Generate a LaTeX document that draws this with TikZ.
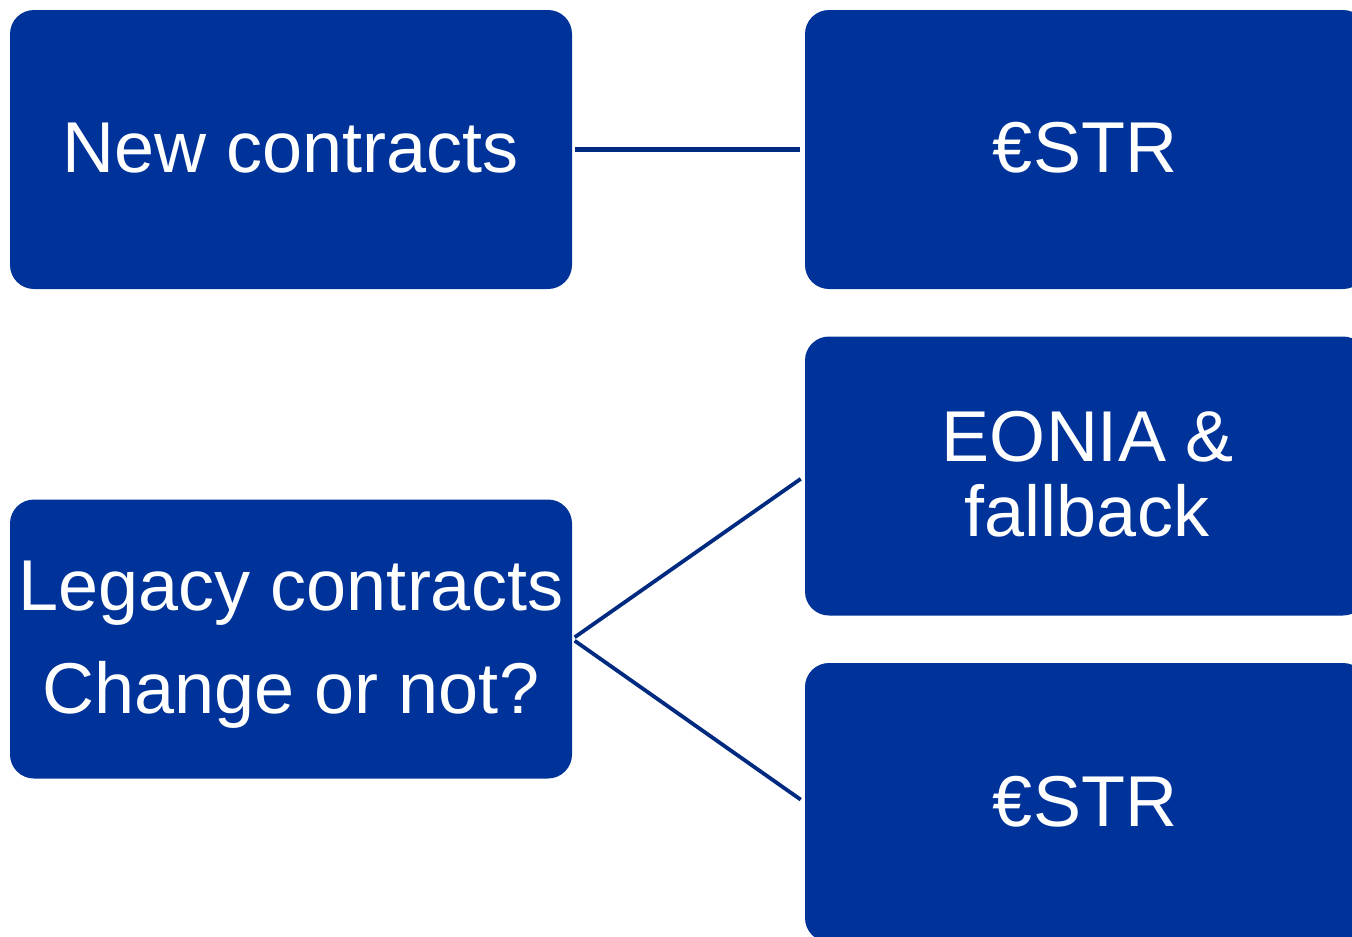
\documentclass[tikz,border=0pt]{standalone}
\usepackage{fontspec}
\setmainfont{Liberation Sans}
\definecolor{boxblue}{HTML}{003399}
\definecolor{linkblue}{HTML}{002A80}
\begin{document}
\begin{tikzpicture}[x=1pt,y=-1pt,
  box/.style={draw=none,fill=boxblue,rounded corners=24pt,minimum width=562pt,minimum height=279pt,inner sep=0pt,anchor=center},
  txt/.style={text=white,font=\fontsize{72}{86}\selectfont,inner sep=0pt,anchor=base},
  link/.style={draw=linkblue,line width=#1},
  link/.default=3.8pt]
\useasboundingbox (0,0) rectangle (1352,937);
\clip (0,0) rectangle (1352,937);
% boxes
\node[box] (newc) at (291,149.5) {};
\node[box] (estr1) at (1086,149.5) {};
\node[box] (eonia) at (1086,476) {};
\node[box] (estr2) at (1086,802.5) {};
\node[box] (legacy) at (291,639) {};
% texts
\node[txt] (tnew) at (291,172) {New contracts};
\node[txt] (testr1) at (1085,172) {€STR};
\node[txt] (teonia1) at (1088,461) {EONIA \&};
\node[txt] (teonia2) at (1087,536) {fallback};
\node[txt] (testr2) at (1085,826) {€STR};
\node[txt] (tleg1) at (291,610) {Legacy contracts};
\node[txt] (tleg2) at (291,713) {Change or not?};
% connectors
\draw[link=5pt,shorten <=3pt,shorten >=5pt] (newc.east) -- (estr1.west);
\draw[link,shorten <=3pt,shorten >=5pt] (legacy.east) -- (eonia.west);
\draw[link,shorten <=3pt,shorten >=5pt] (legacy.east) -- (estr2.west);
\end{tikzpicture}
\end{document}
